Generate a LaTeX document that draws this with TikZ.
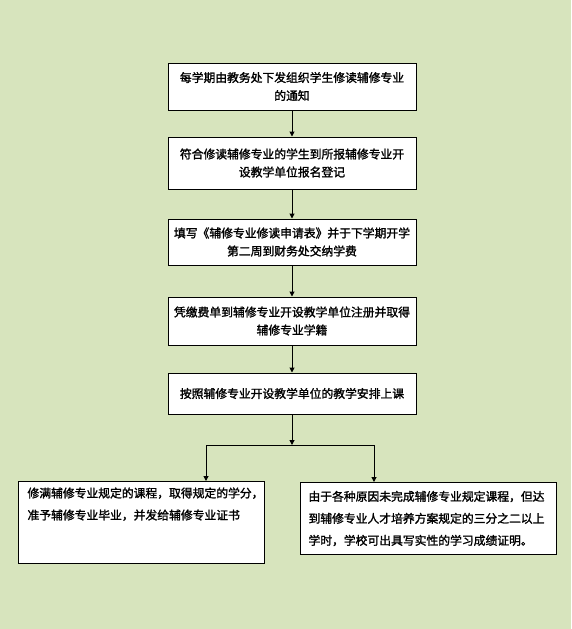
\documentclass[tikz,border=0pt]{standalone}
\usepackage{fontspec}
\newfontfamily\cjk{Noto Sans CJK SC}[FakeBold=1.6]
\usetikzlibrary{arrows.meta}
\definecolor{bgc}{HTML}{D7E4BD}
\tikzset{
  stepbox/.style={draw=black, line width=1pt, fill=white, minimum width=248pt, align=center,
    font=\cjk\fontsize{11.8pt}{18pt}\selectfont, inner sep=2pt},
  endbox/.style={draw=black, line width=1pt, fill=white, align=left,
    font=\cjk\fontsize{11.8pt}{22pt}\selectfont, inner sep=0pt},
  arr/.style={line width=1pt, -{Triangle[width=5pt,length=5pt]}},
  ln/.style={line width=1pt}
}
\begin{document}
\begin{tikzpicture}[x=1pt,y=-1pt]
\fill[bgc] (0,0) rectangle (571,629);
\useasboundingbox (0,0) rectangle (571,629);
\node[stepbox, minimum height=47pt] (b1) at (292,86.5) {每学期由教务处下发组织学生修读辅修专业\\的通知};
\node[stepbox, minimum height=52pt] (b2) at (292,163) {符合修读辅修专业的学生到所报辅修专业开\\设教学单位报名登记};
\node[stepbox, minimum height=46pt] (b3) at (292,242) {填写《辅修专业修读申请表》并于下学期开学\\第二周到财务处交纳学费};
\node[stepbox, minimum height=48pt] (b4) at (292,321) {凭缴费单到辅修专业开设教学单位注册并取得\\辅修专业学籍};
\node[stepbox, minimum height=41pt] (b5) at (292,393.5) {按照辅修专业开设教学单位的教学安排上课};
\node[endbox, anchor=north west, minimum width=246pt, minimum height=82pt] (lb) at (18,481)
  {\hspace*{8pt}\parbox[c][82pt][t]{236pt}{\vspace*{6pt}修满辅修专业规定的课程，取得规定的学分，\\准予辅修专业毕业，并发给辅修专业证书}};
\node[endbox, anchor=north west, minimum width=256pt, minimum height=72pt] (rb) at (300,482)
  {\hspace*{7pt}\parbox[c][72pt][c]{247pt}{由于各种原因未完成辅修专业规定课程，但达\\到辅修专业人才培养方案规定的三分之二以上\\学时，学校可出具写实性的学习成绩证明。}};
\coordinate (j) at (292,445);
\coordinate (jl) at (206,445);
\coordinate (jr) at (374,445);
\draw[arr] (b1) -- (b2);
\draw[arr] (b2) -- (b3);
\draw[arr] (b3) -- (b4);
\draw[arr] (b4) -- (b5);
\draw[arr] (b5) -- (j);
\draw[ln] (jl) -- (jr);
\draw[arr] (jl) -- (jl |- lb.north);
\draw[arr] (jr) -- (jr |- rb.north);
\end{tikzpicture}
\end{document}
